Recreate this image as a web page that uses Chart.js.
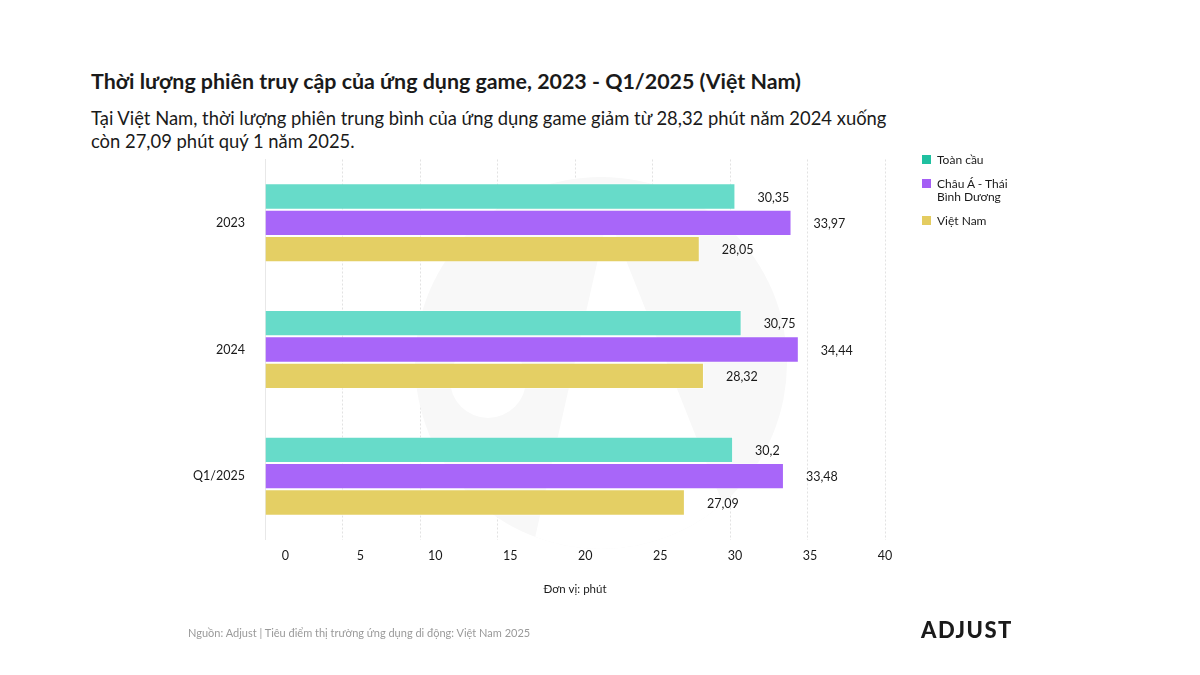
<!DOCTYPE html>
<html>
<head>
<meta charset="utf-8">
<script src="https://cdn.jsdelivr.net/npm/chart.js@4"></script>
<style>
  body { margin: 0; background: #fff; font-family: Lato, sans-serif; color: #1a1a1a; }
  #wrap { position: relative; width: 1200px; height: 675px; overflow: hidden; }
  #grafico { position: absolute; left: 0; top: 0; }
  .title { position: absolute; left: 91px; top: 68px; font-size: 21.4px; font-weight: 700; white-space: nowrap; }
  .sub { position: absolute; left: 91px; top: 107px; font-size: 18.4px; line-height: 23px; width: 810px; }
  .src { position: absolute; left: 188px; top: 626px; font-size: 11px; color: #9a9a9a; }
  .logo { position: absolute; left: 921px; top: 616px; font-size: 22px; font-weight: 900; letter-spacing: 1.5px; }
  #legend { position: absolute; left: 922px; top: 153px; font-size: 12px; }
  #legend .it { position: relative; padding-left: 15px; margin-bottom: 11px; width: 90px; line-height: 13px; }
  #legend .sq { position: absolute; left: 0; top: 2px; width: 9px; height: 9px; }
</style>
</head>
<body>
<div id="wrap">
  <div class="title">Thời lượng phiên truy cập của ứng dụng game, 2023 - Q1/2025 (Việt Nam)</div>
  <div class="sub">Tại Việt Nam, thời lượng phiên trung bình của ứng dụng game giảm từ 28,32 phút năm 2024 xuống còn 27,09 phút quý 1 năm 2025.</div>
  <canvas id="grafico" width="1200" height="675"></canvas>
  <div id="legend"></div>
  <div class="src">Nguồn: Adjust | Tiêu điểm thị trường ứng dụng di động: Việt Nam 2025</div>
  <div class="logo">ADJUST</div>
</div>
<script>
const categorias = ['2023', '2024', 'Q1/2025'];
const toanCau = [30.35, 30.75, 30.2];
const chauA = [33.97, 34.44, 33.48];
const vietNam = [28.05, 28.32, 27.09];
const nombres = ['Toàn cầu', 'Châu Á - Thái Bình Dương', 'Việt Nam'];
const coloresBarra = ['#67dbc9', '#a866f9', '#e4cf64'];
const coloresLeyenda = ['#1fc0a0', '#a45ef5', '#e4cc60'];
const ticksX = [0, 5, 10, 15, 20, 25, 30, 35, 40];

const series = [toanCau, chauA, vietNam];

// faint logo disk behind the bars
const fondo = {
    id: 'fondo',
    beforeDatasetsDraw(chart) {
        const ctx = chart.ctx;
        ctx.save();
        ctx.beginPath();
        ctx.arc(601, 363, 186, 0, Math.PI * 2);
        ctx.fillStyle = '#f8f8f8';
        ctx.fill();
        ctx.clip();
        ctx.fillStyle = '#ffffff';
        ctx.beginPath();
        ctx.moveTo(608, 215);
        ctx.lineTo(745, 560);
        ctx.lineTo(530, 560);
        ctx.closePath();
        ctx.fill();
        ctx.beginPath();
        ctx.arc(488, 380, 38, 0, Math.PI * 2);
        ctx.fill();
        ctx.restore();
    }
};

// value labels to the right of each bar
const etiquetas = {
    id: 'etiquetas',
    afterDatasetsDraw(chart) {
        const ctx = chart.ctx;
        ctx.save();
        ctx.font = '12.5px Lato, sans-serif';
        ctx.fillStyle = '#1a1a1a';
        ctx.textAlign = 'left';
        ctx.textBaseline = 'middle';
        chart.data.datasets.forEach((ds, i) => {
            chart.getDatasetMeta(i).data.forEach((bar, j) => {
                ctx.fillText(String(ds.data[j]).replace('.', ','), bar.x + 22, bar.y + 1);
            });
        });
        ctx.restore();
    }
};

document.getElementById('legend').innerHTML = nombres.map((n, i) =>
    `<div class="it"><span class="sq" style="background:${coloresLeyenda[i]}"></span>${n}</div>`
).join('');

new Chart(document.getElementById('grafico').getContext('2d'), {
    type: 'bar',
    data: {
        labels: categorias,
        datasets: series.map((d, i) => ({
            label: nombres[i],
            data: d,
            backgroundColor: coloresBarra[i],
            borderColor: 'rgba(255,255,255,0.45)',
            borderWidth: 1,
            barPercentage: 1,
            categoryPercentage: 0.624
        }))
    },
    options: {
        indexAxis: 'y',
        responsive: false,
        animation: false,
        layout: { padding: { left: 180, right: 315, top: 159.5, bottom: 65.5 } },
        plugins: { legend: { display: false }, tooltip: { enabled: false } },
        scales: {
            y: {
                afterFit: s => { s.width = 85; },
                grid: { display: false },
                border: { display: true, color: '#e8e8e8' },
                ticks: { color: '#1a1a1a', font: { family: 'Lato', size: 12.5 }, padding: 12 }
            },
            x: {
                min: 0, max: 40,
                afterFit: s => { s.height = 0; },
                ticks: { display: false, stepSize: 5 },
                border: { display: false, dash: [2, 2] },
                grid: { color: '#e2e2e2', drawTicks: false }
            },
            x2: {
                type: 'linear',
                position: 'bottom',
                min: -1.36, max: 40,
                afterFit: s => { s.height = 70; },
                afterBuildTicks: s => { s.ticks = ticksX.map(v => ({ value: v })); },
                grid: { display: false, drawTicks: false },
                border: { display: false },
                ticks: { color: '#1a1a1a', font: { family: 'Lato', size: 12.5 }, padding: 9 },
                title: { display: true, text: 'Đơn vị: phút', color: '#1a1a1a', font: { family: 'Lato', size: 11.5 }, padding: { top: 0, bottom: 13 } }
            }
        }
    },
    plugins: [fondo, etiquetas]
});
</script>
</body>
</html>
